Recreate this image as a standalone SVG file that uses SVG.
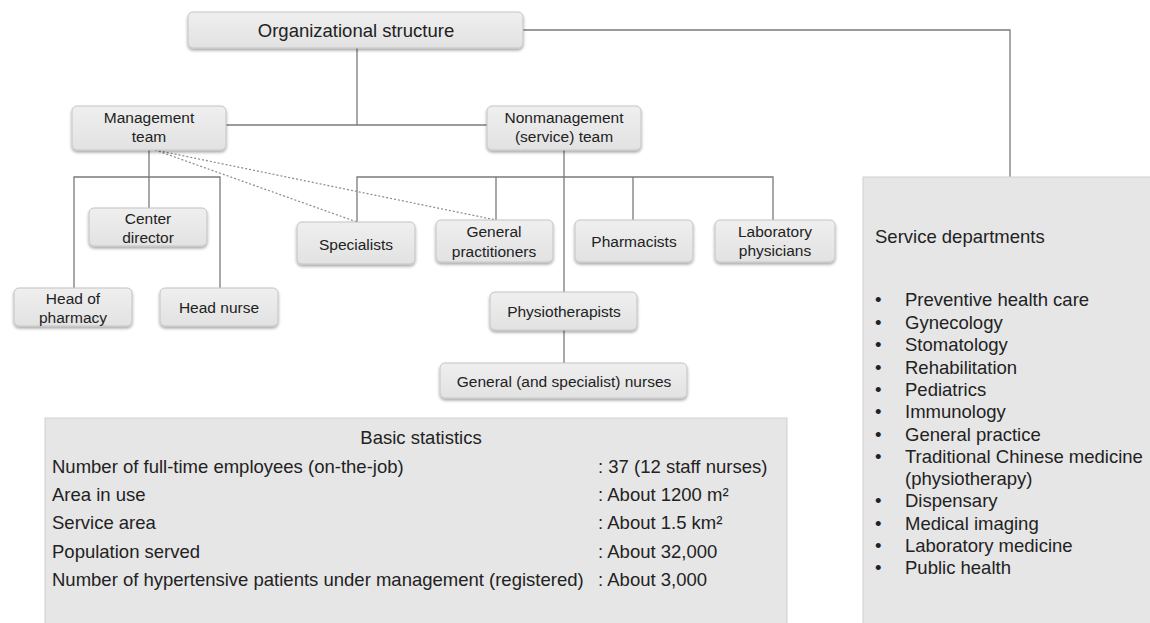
<svg xmlns="http://www.w3.org/2000/svg" width="1150" height="623" viewBox="0 0 1150 623">
<defs>
<linearGradient id="g" x1="0" y1="0" x2="0" y2="1">
<stop offset="0" stop-color="#efefef"/>
<stop offset="1" stop-color="#e2e2e2"/>
</linearGradient>
<filter id="sh" x="-10%" y="-20%" width="120%" height="150%">
<feDropShadow dx="0" dy="2" stdDeviation="1.5" flood-color="#000" flood-opacity="0.35"/>
</filter>
<style>
.n{fill:url(#g);stroke:#c4c4c4;stroke-width:1;filter:url(#sh)}
.t{font-family:"Liberation Sans",Arial,sans-serif;font-size:15.5px;fill:#222;text-anchor:middle;dominant-baseline:central}
.c{fill:none;stroke:#7a7a7a;stroke-width:1.3}
.d{fill:none;stroke:#8a8a8a;stroke-width:1.2;stroke-dasharray:2 2}
.p{fill:#e6e6e6;stroke:#d0d0d0;stroke-width:1}
.s{font-family:"Liberation Sans",Arial,sans-serif;font-size:18.5px;fill:#222;dominant-baseline:central}
</style>
</defs>
<rect width="1150" height="623" fill="#fff"/>
<g id="connectors">
<path class="c" d="M523 30 H1010 V177"/>
<path class="c" d="M357 48 V125"/>
<path class="c" d="M226 125 H487"/>
<path class="c" d="M149 150 V208"/>
<path class="c" d="M74 288 V177 H220 V288"/>
<path class="c" d="M357 222 V177 H773 V220"/>
<path class="c" d="M496 177 V220"/>
<path class="c" d="M633 177 V220"/>
<path class="c" d="M564 150 V292"/>
<path class="c" d="M564 330 V363"/>
<path class="d" d="M155 150 L357 222"/>
<path class="d" d="M155 150 L496 220"/>
</g>
<g id="org"><rect class="n" x="188" y="12" width="335" height="36" rx="5"/><text class="t" x="356" y="30" style="font-size:18.5px">Organizational structure</text></g>
<g id="mgmt"><rect class="n" x="72" y="106" width="154" height="44" rx="5"/><text class="t" x="149" y="117">Management</text><text class="t" x="149" y="136">team</text></g>
<g id="nonmgmt"><rect class="n" x="487" y="106" width="154" height="44" rx="5"/><text class="t" x="564" y="117">Nonmanagement</text><text class="t" x="564" y="136">(service) team</text></g>
<g id="director"><rect class="n" x="89" y="208" width="118" height="38" rx="5"/><text class="t" x="148" y="218">Center</text><text class="t" x="148" y="237">director</text></g>
<g id="pharmhead"><rect class="n" x="14" y="288" width="118" height="38" rx="5"/><text class="t" x="73" y="298">Head of</text><text class="t" x="73" y="317">pharmacy</text></g>
<g id="headnurse"><rect class="n" x="160" y="288" width="118" height="38" rx="5"/><text class="t" x="219" y="307">Head nurse</text></g>
<g id="specialists"><rect class="n" x="297" y="222" width="118" height="42" rx="5"/><text class="t" x="356" y="244">Specialists</text></g>
<g id="gp"><rect class="n" x="436" y="220" width="117" height="42" rx="5"/><text class="t" x="494" y="231">General</text><text class="t" x="494" y="251">practitioners</text></g>
<g id="pharmacists"><rect class="n" x="575" y="220" width="118" height="42" rx="5"/><text class="t" x="634" y="241">Pharmacists</text></g>
<g id="lab"><rect class="n" x="715" y="220" width="120" height="42" rx="5"/><text class="t" x="775" y="231">Laboratory</text><text class="t" x="775" y="250">physicians</text></g>
<g id="physio"><rect class="n" x="490" y="292" width="147" height="38" rx="5"/><text class="t" x="564" y="311">Physiotherapists</text></g>
<g id="nurses"><rect class="n" x="440" y="363" width="247" height="35" rx="5"/><text class="t" x="564" y="381">General (and specialist) nurses</text></g>
<g id="stats">
<rect class="p" x="45" y="418" width="742" height="215"/>
<text class="s" x="421" y="437" text-anchor="middle">Basic statistics</text>
<text class="s" x="52" y="466">Number of full-time employees (on-the-job)</text>
<text class="s" x="52" y="494">Area in use</text>
<text class="s" x="52" y="522">Service area</text>
<text class="s" x="52" y="551">Population served</text>
<text class="s" x="52" y="579">Number of hypertensive patients under management (registered)</text>
<text class="s" x="598" y="466">: 37 (12 staff nurses)</text>
<text class="s" x="598" y="494">: About 1200 m²</text>
<text class="s" x="598" y="522">: About 1.5 km²</text>
<text class="s" x="598" y="551">: About 32,000</text>
<text class="s" x="598" y="579">: About 3,000</text>
</g>
<g id="services">
<rect class="p" x="863" y="177" width="300" height="460"/>
<text class="s" x="875" y="236">Service departments</text>
<g class="s">
<text x="875" y="299">•</text><text x="905" y="299">Preventive health care</text>
<text x="875" y="322">•</text><text x="905" y="322">Gynecology</text>
<text x="875" y="344">•</text><text x="905" y="344">Stomatology</text>
<text x="875" y="367">•</text><text x="905" y="367">Rehabilitation</text>
<text x="875" y="389">•</text><text x="905" y="389">Pediatrics</text>
<text x="875" y="411">•</text><text x="905" y="411">Immunology</text>
<text x="875" y="434">•</text><text x="905" y="434">General practice</text>
<text x="875" y="456">•</text><text x="905" y="456">Traditional Chinese medicine</text>
<text x="905" y="478">(physiotherapy)</text>
<text x="875" y="500">•</text><text x="905" y="500">Dispensary</text>
<text x="875" y="523">•</text><text x="905" y="523">Medical imaging</text>
<text x="875" y="545">•</text><text x="905" y="545">Laboratory medicine</text>
<text x="875" y="567">•</text><text x="905" y="567">Public health</text>
</g>
</g>
</svg>
